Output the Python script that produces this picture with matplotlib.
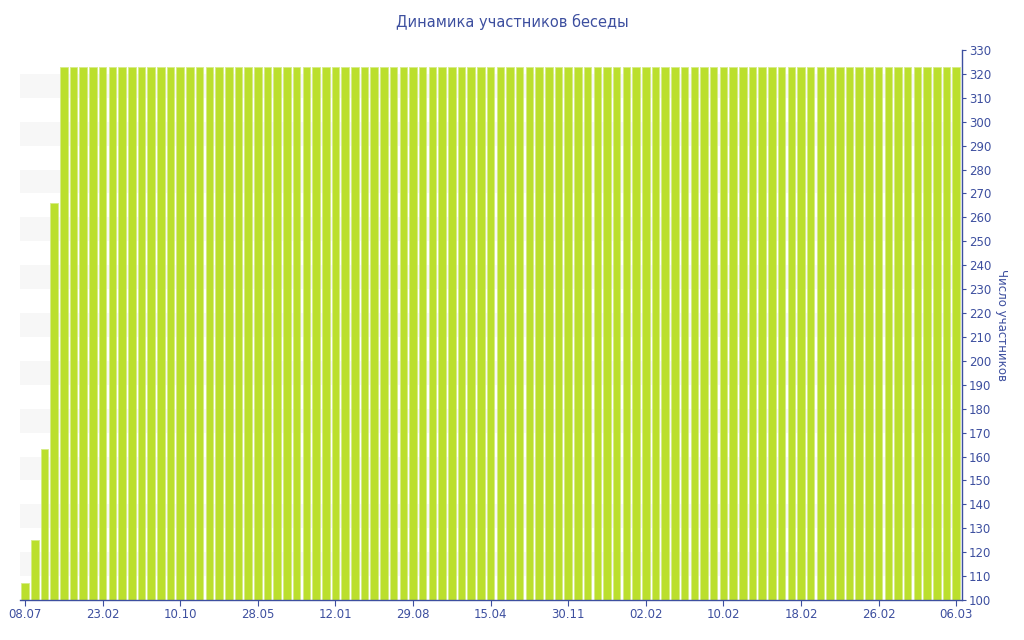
import numpy as np
import matplotlib.pyplot as plt
from matplotlib.ticker import MultipleLocator

# данные
values = [107, 125, 163, 266] + [323] * 93
tick_labels = ["08.07", "23.02", "10.10", "28.05", "12.01", "29.08", "15.04",
               "30.11", "02.02", "10.02", "18.02", "26.02", "06.03"]
tick_step = 8
title = "Динамика участников беседы"
ylabel = "Число участников"

blue = "#3d4f9f"
bar_color = "#bbdf2d"

fig = plt.figure(figsize=(10.24, 6.4), dpi=100)
ax = fig.add_axes([20 / 1024, 40 / 640, 942 / 1024, 550 / 640])

# полосы фона
for lo in range(110, 320, 20):
    ax.axhspan(lo, lo + 10, color="#f7f7f7", zorder=0, lw=0)

x = np.arange(len(values))
ax.bar(x, values, width=0.78, color=bar_color, edgecolor="#d6ec86", linewidth=0.6, zorder=2)

ax.set_xlim(-0.52, len(values) - 0.4)
ax.set_ylim(100, 330)

ax.set_xticks(x[::tick_step])
ax.set_xticklabels(tick_labels)

ax.yaxis.tick_right()
ax.yaxis.set_label_position("right")
ax.yaxis.set_major_locator(MultipleLocator(10))

for s in ["left", "top"]:
    ax.spines[s].set_visible(False)
for s in ["right", "bottom"]:
    ax.spines[s].set_color(blue)
    ax.spines[s].set_linewidth(1.0)

ax.tick_params(axis="both", colors=blue, labelsize=8.5, length=3, width=0.8, pad=2)
ax.tick_params(axis="x", length=4)

ax.set_ylabel(ylabel, color=blue, fontsize=8.5, rotation=-90, labelpad=12)
fig.text(0.5, 1 - 22 / 640, title, color=blue, fontsize=10.5, ha="center", va="center")

fig.savefig("out.png", dpi=100)
